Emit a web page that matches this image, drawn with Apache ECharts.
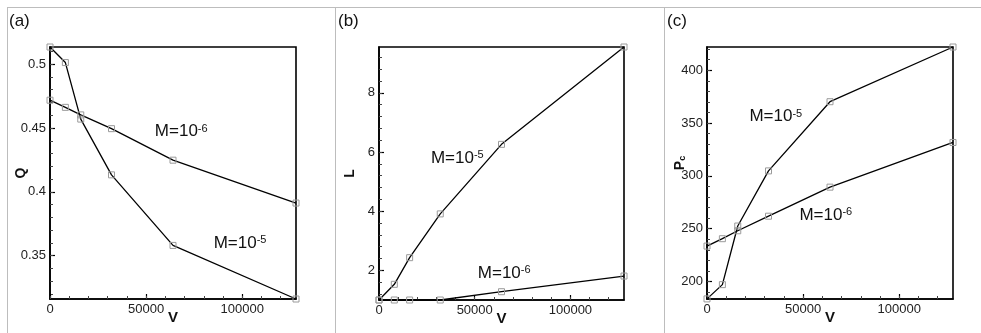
<!DOCTYPE html>
<html>
<head>
<meta charset="utf-8">
<script src="https://cdn.jsdelivr.net/npm/echarts@6/dist/echarts.min.js"></script>
<style>
  html, body { margin: 0; padding: 0; background: #fff; }
  #chart { width: 981px; height: 333px; }
</style>
</head>
<body>
<div id="chart"></div>
<script>
// ---------- data ----------
const V = [0, 8000, 16000, 32000, 64000, 128000];

const Q_M5 = [0.5135, 0.5013, 0.457, 0.4133, 0.358, 0.316];
const Q_M6 = [0.4718, 0.4662, 0.4603, 0.4495, 0.4248, 0.3912];

const L_M5 = [1.0, 1.53, 2.43, 3.91, 6.26, 9.55];
const L_M6 = [1.0, 1.0, 1.0, 1.0, 1.28, 1.81];

const Pc_M5 = [183.5, 197, 252.5, 304.7, 370.2, 422];
const Pc_M6 = [233.5, 240.5, 248, 261.8, 289.3, 331.6];

// tick labels
const xTicks = [0, 50000, 100000];
const qTicks = [0.35, 0.4, 0.45, 0.5];
const lTicks = [2, 4, 6, 8];
const pcTicks = [200, 250, 300, 350, 400];

// axis ranges
const xRange = [0, 128000];
const qRange = [0.316, 0.5135];
const lRange = [1.0, 9.55];
const pcRange = [183.4, 422];

// annotation positions (data space) : [x, y]
const annQ = { m6: [68300, 0.4472], m5: [98900, 0.3600] };
const annL = { m5: [40900, 5.79], m6: [65400, 1.91] };
const annPc = { m5: [35800, 355.9], m6: [61800, 263] };

// ---------- helpers ----------
function minorTicks(lo, hi, step) {
  const out = [];
  const start = Math.ceil(lo / step - 1e-9) * step;
  for (let v = start; v <= hi + 1e-9; v += step) out.push(+v.toFixed(6));
  return out;
}
function pairs(xs, ys) { return xs.map((x, i) => [x, ys[i]]); }

const FONT = "'Liberation Sans', Arial, sans-serif";
const grids = [
  { left: 50, top: 47, width: 246, height: 252 },
  { left: 379, top: 47, width: 245, height: 253 },
  { left: 707, top: 47, width: 246, height: 252 }
];

function majorX(gi) {
  return {
    type: 'value', gridIndex: gi, min: xRange[0], max: xRange[1], position: 'bottom',
    name: 'V', nameLocation: 'middle', nameGap: 11, nameMoveOverlap: false,
    nameTextStyle: { fontFamily: FONT, fontWeight: 'bold', fontSize: 15, color: '#111' },
    axisLine: { show: true, lineStyle: { color: '#000', width: 1.6 } },
    axisTick: { show: true, inside: true, length: 5, customValues: xTicks, lineStyle: { color: '#000', width: 1.2 } },
    axisLabel: { show: true, customValues: xTicks, margin: 4, fontFamily: FONT, fontSize: 13, color: '#222',
      formatter: v => String(v) },
    splitLine: { show: false }
  };
}
function minorX(gi) {
  return {
    type: 'value', gridIndex: gi, min: xRange[0], max: xRange[1], position: 'bottom',
    axisLine: { show: false },
    axisTick: { show: true, inside: true, length: 3, customValues: minorTicks(0, 120000, 10000), lineStyle: { color: '#444', width: 1 } },
    axisLabel: { show: false }, splitLine: { show: false }
  };
}
function majorY(gi, range, ticks, name, nameGap, rich, pad) {
  const ax = {
    type: 'value', gridIndex: gi, min: range[0], max: range[1], position: 'left',
    name: name, nameLocation: 'middle', nameGap: nameGap, nameMoveOverlap: false,
    nameTextStyle: { fontFamily: FONT, fontWeight: 'bold', fontSize: 14, color: '#111' },
    axisLine: { show: true, lineStyle: { color: '#000', width: 1.6 } },
    axisTick: { show: true, inside: true, length: 5, customValues: ticks, lineStyle: { color: '#000', width: 1.2 } },
    axisLabel: { show: true, customValues: ticks, margin: 4, fontFamily: FONT, fontSize: 13, color: '#222',
      formatter: v => String(v) },
    splitLine: { show: false }
  };
  if (rich) ax.nameTextStyle.rich = rich;
  if (pad) ax.nameTextStyle.padding = pad;
  return ax;
}
function minorY(gi, range, step) {
  return {
    type: 'value', gridIndex: gi, min: range[0], max: range[1], position: 'left',
    axisLine: { show: false },
    axisTick: { show: true, inside: true, length: 3, customValues: minorTicks(range[0], range[1], step), lineStyle: { color: '#444', width: 1 } },
    axisLabel: { show: false }, splitLine: { show: false }
  };
}

const annRich = {
  m: { fontFamily: FONT, fontSize: 17, color: '#111' },
  s: { fontFamily: FONT, fontSize: 11, color: '#111', verticalAlign: 'top' }
};
function ann(coord, exp) {
  return {
    symbol: 'circle', symbolSize: 1, silent: true,
    itemStyle: { color: 'transparent' },
    label: { show: true, position: 'inside', formatter: '{m|M=10}{s|' + exp + '}', rich: annRich },
    data: [{ coord: coord }]
  };
}
function lineSeries(gi, ys, mark) {
  return {
    type: 'line', xAxisIndex: gi, yAxisIndex: gi, data: pairs(V, ys),
    clip: false, symbol: 'rect', symbolSize: 6, showAllSymbol: true,
    lineStyle: { color: '#000', width: 1.3 },
    itemStyle: { color: 'transparent', borderColor: '#9a9a9a', borderWidth: 1 },
    emphasis: { disabled: true },
    markPoint: mark, z: 3
  };
}

const G = '#bdbdbd';
const option = {
  animation: false,
  backgroundColor: '#fff',
  grid: grids.map(g => Object.assign({ show: true, borderColor: '#000', borderWidth: 1.6, backgroundColor: 'transparent',
    containLabel: false, outerBoundsMode: 'none' }, g)),
  xAxis: [majorX(0), majorX(1), majorX(2), minorX(0), minorX(1), minorX(2)],
  yAxis: [
    majorY(0, qRange, qTicks, 'Q', 22),
    majorY(1, lRange, lTicks, 'L', 22),
    majorY(2, pcRange, pcTicks, '{p|P}{c|c}', 20, {
      p: { fontFamily: FONT, fontWeight: 'bold', fontSize: 14, color: '#111' },
      c: { fontFamily: FONT, fontWeight: 'bold', fontSize: 9, color: '#111', verticalAlign: 'bottom' }
    }, [0, 0, 0, 20]),
    minorY(0, qRange, 0.01),
    minorY(1, lRange, 0.4),
    minorY(2, pcRange, 10)
  ],
  series: [
    lineSeries(0, Q_M5, ann(annQ.m5, '-5')),
    lineSeries(0, Q_M6, ann(annQ.m6, '-6')),
    lineSeries(1, L_M5, ann(annL.m5, '-5')),
    lineSeries(1, L_M6, ann(annL.m6, '-6')),
    lineSeries(2, Pc_M5, ann(annPc.m5, '-5')),
    lineSeries(2, Pc_M6, ann(annPc.m6, '-6'))
  ],
  graphic: [
    { type: 'line', shape: { x1: 7, y1: 7.5, x2: 981, y2: 7.5 }, style: { stroke: G, lineWidth: 1 } },
    { type: 'line', shape: { x1: 7.5, y1: 7, x2: 7.5, y2: 333 }, style: { stroke: G, lineWidth: 1 } },
    { type: 'line', shape: { x1: 335.5, y1: 7, x2: 335.5, y2: 333 }, style: { stroke: G, lineWidth: 1 } },
    { type: 'line', shape: { x1: 664.5, y1: 7, x2: 664.5, y2: 333 }, style: { stroke: G, lineWidth: 1 } },
    { type: 'text', left: 9, top: 13, style: { text: '(a)', font: '17px ' + FONT, fill: '#111' } },
    { type: 'text', left: 338, top: 13, style: { text: '(b)', font: '17px ' + FONT, fill: '#111' } },
    { type: 'text', left: 667, top: 13, style: { text: '(c)', font: '17px ' + FONT, fill: '#111' } }
  ]
};

const chart = echarts.init(document.getElementById('chart'), null, { renderer: 'canvas' });
chart.setOption(option);
</script>
</body>
</html>
